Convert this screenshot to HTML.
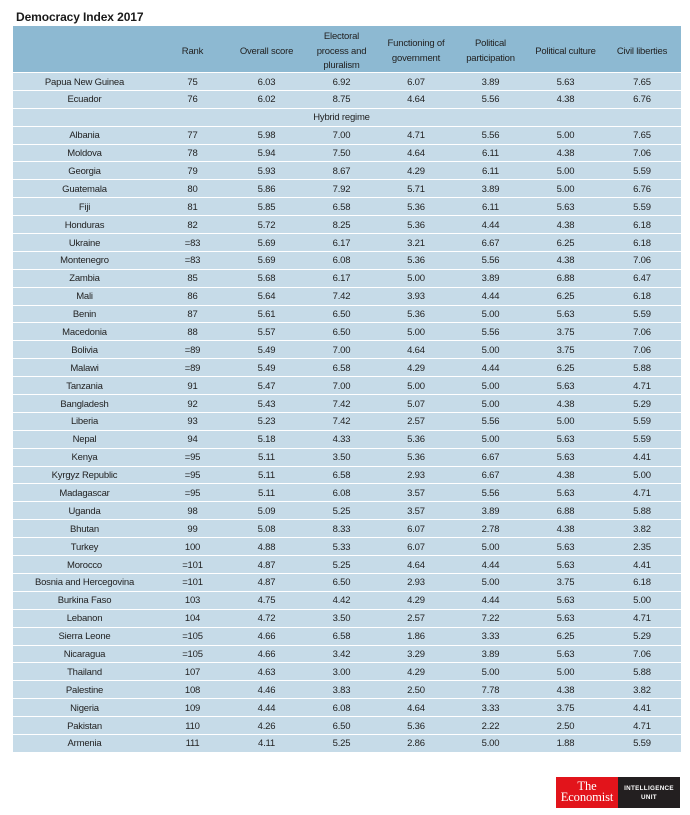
<!DOCTYPE html>
<html>
<head>
<meta charset="utf-8">
<style>
*{margin:0;padding:0;box-sizing:border-box;}
html,body{width:690px;height:815px;background:#fff;overflow:hidden;}
body{position:relative;font-family:"Liberation Sans",sans-serif;color:#222;}
.title{position:absolute;left:16px;top:10px;font-size:12px;font-weight:bold;color:#1a1a1a;letter-spacing:-0.1px;}
.tbl{position:absolute;left:13px;top:26px;width:668px;}
.row{display:grid;grid-template-columns:143px 73px 75px 75px 74px 75px 75px 78px;height:17.9px;background:#c6dbe8;border-top:1px solid #fff;font-size:9.5px;letter-spacing:-0.2px;overflow:hidden;}
.row div{text-align:center;line-height:16.9px;padding-top:1.5px;white-space:nowrap;}
.hdr{display:grid;grid-template-columns:143px 73px 75px 75px 74px 75px 75px 78px;height:46px;background:#8db9d2;font-size:9.5px;letter-spacing:-0.2px;padding-top:4px;}
.hdr div{display:flex;align-items:center;justify-content:center;text-align:center;line-height:14.5px;}
.logo{position:absolute;left:556px;top:777px;width:124px;height:31px;display:flex;}
.red{width:62px;height:31px;background:#e2141b;color:#fff;font-family:"Liberation Serif",serif;font-size:12.5px;line-height:11px;text-align:center;padding-top:4px;letter-spacing:-0.1px;}
.blk{width:62px;height:31px;background:#231f20;color:#fff;font-family:"Liberation Sans",sans-serif;font-weight:bold;font-size:6.3px;letter-spacing:0.3px;line-height:9px;text-align:center;padding-top:7px;}
</style>
</head>
<body>
<div class="title">Democracy Index 2017</div>
<div class="tbl">
<div class="hdr"><div></div><div>Rank</div><div>Overall score</div><div>Electoral<br>process and<br>pluralism</div><div>Functioning of<br>government</div><div>Political<br>participation</div><div>Political culture</div><div>Civil liberties</div></div>
<div class="row"><div>Papua New Guinea</div><div>75</div><div>6.03</div><div>6.92</div><div>6.07</div><div>3.89</div><div>5.63</div><div>7.65</div></div>
<div class="row"><div>Ecuador</div><div>76</div><div>6.02</div><div>8.75</div><div>4.64</div><div>5.56</div><div>4.38</div><div>6.76</div></div>
<div class="row"><div></div><div></div><div></div><div>Hybrid regime</div><div></div><div></div><div></div><div></div></div>
<div class="row"><div>Albania</div><div>77</div><div>5.98</div><div>7.00</div><div>4.71</div><div>5.56</div><div>5.00</div><div>7.65</div></div>
<div class="row"><div>Moldova</div><div>78</div><div>5.94</div><div>7.50</div><div>4.64</div><div>6.11</div><div>4.38</div><div>7.06</div></div>
<div class="row"><div>Georgia</div><div>79</div><div>5.93</div><div>8.67</div><div>4.29</div><div>6.11</div><div>5.00</div><div>5.59</div></div>
<div class="row"><div>Guatemala</div><div>80</div><div>5.86</div><div>7.92</div><div>5.71</div><div>3.89</div><div>5.00</div><div>6.76</div></div>
<div class="row"><div>Fiji</div><div>81</div><div>5.85</div><div>6.58</div><div>5.36</div><div>6.11</div><div>5.63</div><div>5.59</div></div>
<div class="row"><div>Honduras</div><div>82</div><div>5.72</div><div>8.25</div><div>5.36</div><div>4.44</div><div>4.38</div><div>6.18</div></div>
<div class="row"><div>Ukraine</div><div>=83</div><div>5.69</div><div>6.17</div><div>3.21</div><div>6.67</div><div>6.25</div><div>6.18</div></div>
<div class="row"><div>Montenegro</div><div>=83</div><div>5.69</div><div>6.08</div><div>5.36</div><div>5.56</div><div>4.38</div><div>7.06</div></div>
<div class="row"><div>Zambia</div><div>85</div><div>5.68</div><div>6.17</div><div>5.00</div><div>3.89</div><div>6.88</div><div>6.47</div></div>
<div class="row"><div>Mali</div><div>86</div><div>5.64</div><div>7.42</div><div>3.93</div><div>4.44</div><div>6.25</div><div>6.18</div></div>
<div class="row"><div>Benin</div><div>87</div><div>5.61</div><div>6.50</div><div>5.36</div><div>5.00</div><div>5.63</div><div>5.59</div></div>
<div class="row"><div>Macedonia</div><div>88</div><div>5.57</div><div>6.50</div><div>5.00</div><div>5.56</div><div>3.75</div><div>7.06</div></div>
<div class="row"><div>Bolivia</div><div>=89</div><div>5.49</div><div>7.00</div><div>4.64</div><div>5.00</div><div>3.75</div><div>7.06</div></div>
<div class="row"><div>Malawi</div><div>=89</div><div>5.49</div><div>6.58</div><div>4.29</div><div>4.44</div><div>6.25</div><div>5.88</div></div>
<div class="row"><div>Tanzania</div><div>91</div><div>5.47</div><div>7.00</div><div>5.00</div><div>5.00</div><div>5.63</div><div>4.71</div></div>
<div class="row"><div>Bangladesh</div><div>92</div><div>5.43</div><div>7.42</div><div>5.07</div><div>5.00</div><div>4.38</div><div>5.29</div></div>
<div class="row"><div>Liberia</div><div>93</div><div>5.23</div><div>7.42</div><div>2.57</div><div>5.56</div><div>5.00</div><div>5.59</div></div>
<div class="row"><div>Nepal</div><div>94</div><div>5.18</div><div>4.33</div><div>5.36</div><div>5.00</div><div>5.63</div><div>5.59</div></div>
<div class="row"><div>Kenya</div><div>=95</div><div>5.11</div><div>3.50</div><div>5.36</div><div>6.67</div><div>5.63</div><div>4.41</div></div>
<div class="row"><div>Kyrgyz Republic</div><div>=95</div><div>5.11</div><div>6.58</div><div>2.93</div><div>6.67</div><div>4.38</div><div>5.00</div></div>
<div class="row"><div>Madagascar</div><div>=95</div><div>5.11</div><div>6.08</div><div>3.57</div><div>5.56</div><div>5.63</div><div>4.71</div></div>
<div class="row"><div>Uganda</div><div>98</div><div>5.09</div><div>5.25</div><div>3.57</div><div>3.89</div><div>6.88</div><div>5.88</div></div>
<div class="row"><div>Bhutan</div><div>99</div><div>5.08</div><div>8.33</div><div>6.07</div><div>2.78</div><div>4.38</div><div>3.82</div></div>
<div class="row"><div>Turkey</div><div>100</div><div>4.88</div><div>5.33</div><div>6.07</div><div>5.00</div><div>5.63</div><div>2.35</div></div>
<div class="row"><div>Morocco</div><div>=101</div><div>4.87</div><div>5.25</div><div>4.64</div><div>4.44</div><div>5.63</div><div>4.41</div></div>
<div class="row"><div>Bosnia and Hercegovina</div><div>=101</div><div>4.87</div><div>6.50</div><div>2.93</div><div>5.00</div><div>3.75</div><div>6.18</div></div>
<div class="row"><div>Burkina Faso</div><div>103</div><div>4.75</div><div>4.42</div><div>4.29</div><div>4.44</div><div>5.63</div><div>5.00</div></div>
<div class="row"><div>Lebanon</div><div>104</div><div>4.72</div><div>3.50</div><div>2.57</div><div>7.22</div><div>5.63</div><div>4.71</div></div>
<div class="row"><div>Sierra Leone</div><div>=105</div><div>4.66</div><div>6.58</div><div>1.86</div><div>3.33</div><div>6.25</div><div>5.29</div></div>
<div class="row"><div>Nicaragua</div><div>=105</div><div>4.66</div><div>3.42</div><div>3.29</div><div>3.89</div><div>5.63</div><div>7.06</div></div>
<div class="row"><div>Thailand</div><div>107</div><div>4.63</div><div>3.00</div><div>4.29</div><div>5.00</div><div>5.00</div><div>5.88</div></div>
<div class="row"><div>Palestine</div><div>108</div><div>4.46</div><div>3.83</div><div>2.50</div><div>7.78</div><div>4.38</div><div>3.82</div></div>
<div class="row"><div>Nigeria</div><div>109</div><div>4.44</div><div>6.08</div><div>4.64</div><div>3.33</div><div>3.75</div><div>4.41</div></div>
<div class="row"><div>Pakistan</div><div>110</div><div>4.26</div><div>6.50</div><div>5.36</div><div>2.22</div><div>2.50</div><div>4.71</div></div>
<div class="row"><div>Armenia</div><div>111</div><div>4.11</div><div>5.25</div><div>2.86</div><div>5.00</div><div>1.88</div><div>5.59</div></div>
</div>
<div class="logo">
<div class="red">The<br>Economist</div>
<div class="blk">INTELLIGENCE<br>UNIT</div>
</div>
</body>
</html>
